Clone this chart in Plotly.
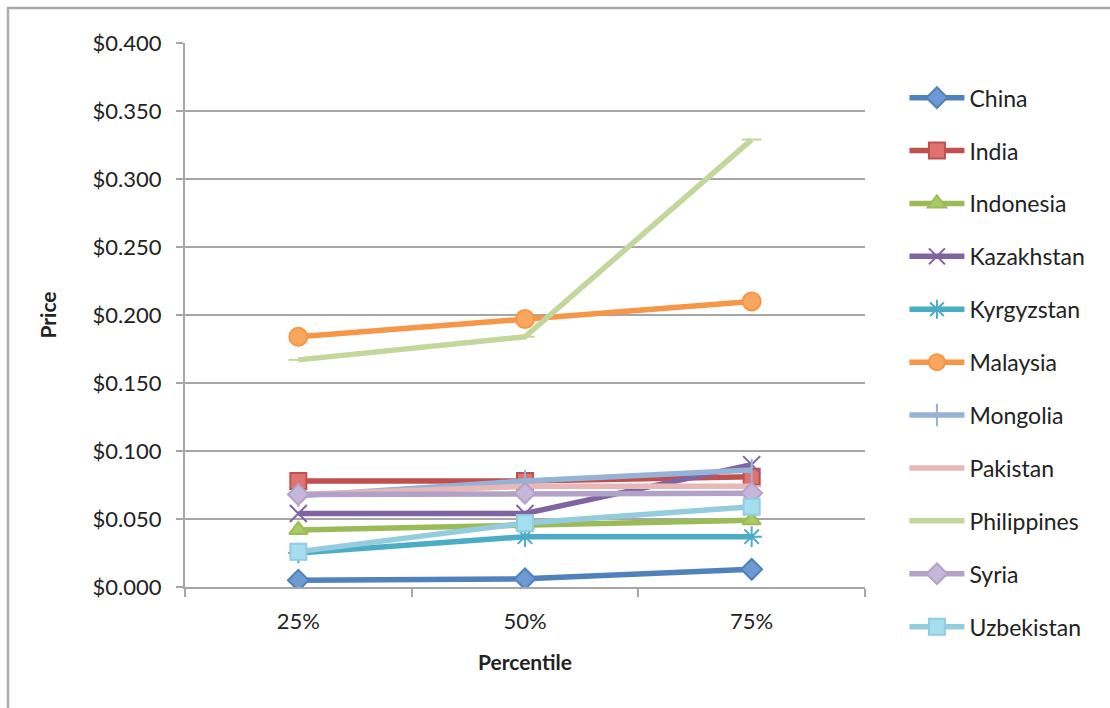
import plotly.graph_objects as go

# Price by percentile for each country
percentiles = ["25%", "50%", "75%"]
countries = ["China", "India", "Indonesia", "Kazakhstan", "Kyrgyzstan", "Malaysia",
             "Mongolia", "Pakistan", "Philippines", "Syria", "Uzbekistan"]
china = [0.005, 0.006, 0.013]
india = [0.078, 0.078, 0.081]
indonesia = [0.042, 0.046, 0.049]
kazakhstan = [0.054, 0.054, 0.090]
kyrgyzstan = [0.025, 0.037, 0.037]
malaysia = [0.184, 0.197, 0.210]
mongolia = [0.067, 0.078, 0.086]
pakistan = [0.068, 0.074, 0.074]
philippines = [0.167, 0.184, 0.329]
syria = [0.068, 0.069, 0.069]
uzbekistan = [0.026, 0.047, 0.059]
y_ticks = [0.0, 0.05, 0.10, 0.15, 0.20, 0.25, 0.30, 0.35, 0.40]

series_values = [china, india, indonesia, kazakhstan, kyrgyzstan, malaysia,
                 mongolia, pakistan, philippines, syria, uzbekistan]

# line colour, marker symbol, marker fill, marker size
styles = [
    ("#4F81BD", "diamond", "#6E9AD3", 16),
    ("#C0504D", "square", "#E07370", 16),
    ("#9BBB59", "triangle-up", "#A9CC62", 16),
    ("#8064A2", "x-thin", "#8064A2", 17),
    ("#4BACC6", "asterisk", "#4BACC6", 17),
    ("#F79646", "circle", "#F9A65E", 18),
    ("#95B3D7", "line-ns", "#95B3D7", 16),
    ("#E6B9B8", "line-ew", "#E6B9B8", 14),
    ("#C3D69B", "line-ew", "#C3D69B", 14),
    ("#B3A2C7", "diamond", "#C5B6DA", 16),
    ("#93CDDD", "square", "#A5DEEE", 16),
]

FONT = "Lato"
fig = go.Figure()
for i, (name, vals, st) in enumerate(zip(countries, series_values, styles)):
    color, symbol, fill, size = st
    fig.add_trace(go.Scatter(
        x=percentiles, y=vals, name=name, mode="lines+markers",
        legendgroup=name,
        line=dict(color=color, width=5.5),
        marker=dict(symbol=symbol, size=size, color=fill,
                    line=dict(color=color, width=2)),
    ))

fig.update_layout(
    width=1110, height=708,
    margin=dict(l=185, r=245, t=43, b=121),
    paper_bgcolor="white", plot_bgcolor="white",
    font=dict(family=FONT, size=22, color="#222222"),
    showlegend=True,
    legend=dict(
        x=1.058, y=0.939, xanchor="left", yanchor="top",
        font=dict(family=FONT, size=23, color="#222222"),
        traceorder="grouped", tracegroupgap=20,
        itemwidth=55, maxheight=700,
        bgcolor="rgba(0,0,0,0)",
    ),
    xaxis=dict(
        type="category", categoryorder="array", categoryarray=percentiles,
        range=[-0.5, 2.5],
        showgrid=False, showline=True, linecolor="#A6A6A6", linewidth=2,
        ticks="outside", tickson="boundaries", ticklen=8, tickcolor="#A6A6A6",
        tickwidth=2, ticklabelstandoff=14,
        tickfont=dict(family=FONT, size=22, color="#222222"),
        title=dict(text="<b>Percentile</b>", font=dict(family=FONT, size=21),
                   standoff=22),
    ),
    yaxis=dict(
        range=[0, 0.4], tickvals=y_ticks,
        ticktext=["$%.3f" % v for v in y_ticks],
        showgrid=True, gridcolor="#A6A6A6", gridwidth=1.5,
        showline=True, linecolor="#A6A6A6", linewidth=2,
        ticks="outside", ticklen=7, tickcolor="#A6A6A6", tickwidth=2,
        ticklabelstandoff=10,
        tickfont=dict(family=FONT, size=22, color="#222222"),
        zeroline=False,
        title=dict(text="<b>Price</b>", font=dict(family=FONT, size=21),
                   standoff=30),
    ),
    shapes=[dict(
        type="rect", xref="paper", yref="paper",
        x0=(8 - 185) / 680, x1=(1125 - 185) / 680,
        y0=(121 - 730) / 544, y1=(700 - 121 + 0) / 544,
        line=dict(color="#ABABAB", width=2.5), fillcolor="rgba(0,0,0,0)",
        layer="below",
    )],
)

fig.write_html("out.html")
